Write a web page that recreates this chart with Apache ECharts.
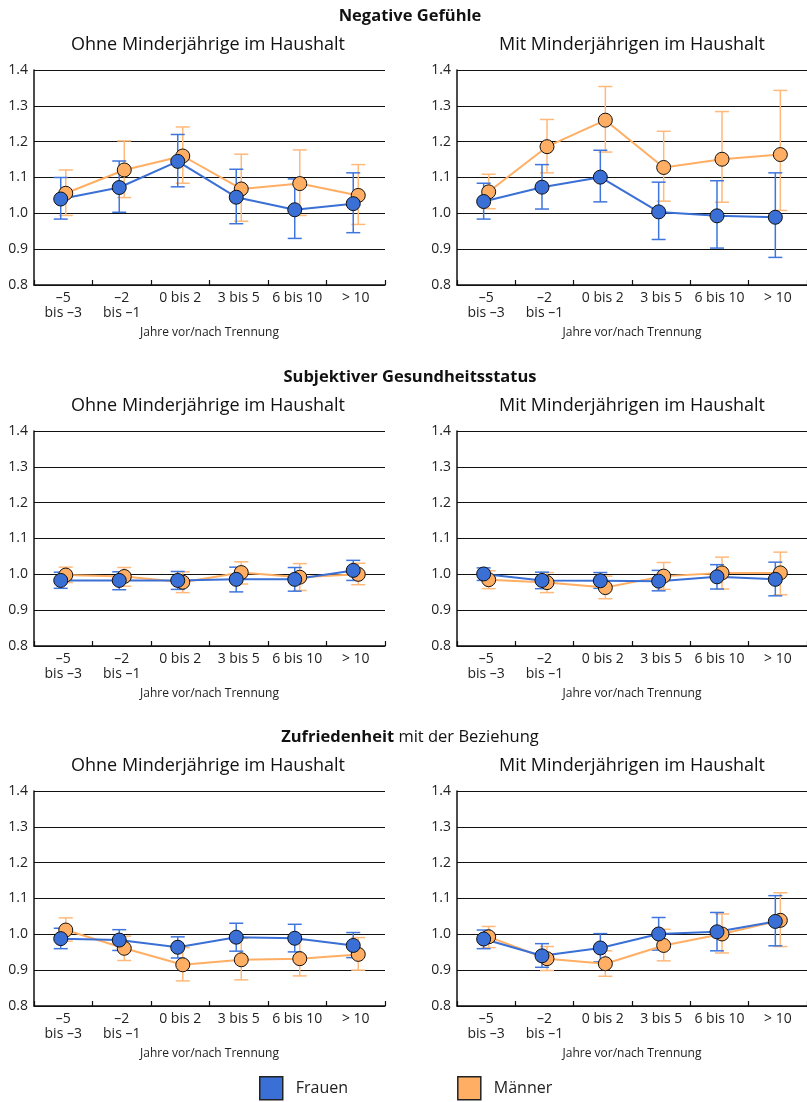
<!DOCTYPE html>
<html>
<head>
<meta charset="utf-8">
<script src="https://cdn.jsdelivr.net/npm/echarts@6/dist/echarts.min.js"></script>
<style>
html,body{margin:0;padding:0;background:#fff;}
#chart{width:807px;height:1102px;}
</style>
</head>
<body>
<div id="chart"></div>
<script>
// ---------- data ----------
const categories = ['–5\nbis –3', '–2\nbis –1', '0 bis 2', '3 bis 5', '6 bis 10', '> 10'];
const yTicks = [0.8, 0.9, 1.0, 1.1, 1.2, 1.3, 1.4];
const seriesNames = ['Frauen', 'Männer'];
const sectionTitles = ['Negative Gefühle', 'Subjektiver Gesundheitsstatus', '{b|Zufriedenheit} mit der Beziehung'];
const panelTitles = ['Ohne Minderjährige im Haushalt', 'Mit Minderjährigen im Haushalt'];
const xAxisName = 'Jahre vor/nach Trennung';

// Negative Gefühle – ohne Minderjährige
const negOhneFrauen     = [1.040, 1.072, 1.145, 1.045, 1.010, 1.027];
const negOhneFrauenLo   = [0.984, 1.003, 1.074, 0.971, 0.930, 0.946];
const negOhneFrauenHi   = [1.100, 1.146, 1.220, 1.123, 1.096, 1.113];
const negOhneMaenner    = [1.056, 1.121, 1.160, 1.068, 1.083, 1.050];
const negOhneMaennerLo  = [0.994, 1.044, 1.084, 0.978, 0.994, 0.969];
const negOhneMaennerHi  = [1.121, 1.202, 1.241, 1.165, 1.177, 1.136];
// Negative Gefühle – mit Minderjährigen
const negMitFrauen      = [1.033, 1.073, 1.101, 1.004, 0.993, 0.989];
const negMitFrauenLo    = [0.984, 1.012, 1.032, 0.927, 0.903, 0.877];
const negMitFrauenHi    = [1.084, 1.136, 1.176, 1.087, 1.091, 1.113];
const negMitMaenner     = [1.060, 1.186, 1.260, 1.128, 1.151, 1.164];
const negMitMaennerLo   = [1.013, 1.113, 1.171, 1.034, 1.031, 1.008];
const negMitMaennerHi   = [1.109, 1.262, 1.354, 1.229, 1.284, 1.343];
// Gesundheit – ohne
const gesOhneFrauen     = [0.983, 0.983, 0.983, 0.986, 0.986, 1.011];
const gesOhneFrauenLo   = [0.961, 0.957, 0.958, 0.951, 0.953, 0.983];
const gesOhneFrauenHi   = [1.006, 1.007, 1.008, 1.020, 1.019, 1.039];
const gesOhneMaenner    = [0.998, 0.994, 0.978, 1.005, 0.992, 1.000];
const gesOhneMaennerLo  = [0.977, 0.967, 0.949, 0.973, 0.955, 0.971];
const gesOhneMaennerHi  = [1.020, 1.019, 1.007, 1.035, 1.030, 1.031];
// Gesundheit – mit
const gesMitFrauen      = [1.001, 0.983, 0.982, 0.981, 0.993, 0.986];
const gesMitFrauenLo    = [0.983, 0.960, 0.961, 0.954, 0.959, 0.940];
const gesMitFrauenHi    = [1.018, 1.006, 1.005, 1.011, 1.027, 1.034];
const gesMitMaenner     = [0.985, 0.977, 0.963, 0.995, 1.004, 1.004];
const gesMitMaennerLo   = [0.960, 0.949, 0.932, 0.958, 0.959, 0.943];
const gesMitMaennerHi   = [1.010, 1.005, 0.995, 1.033, 1.048, 1.062];
// Zufriedenheit – ohne
const zufOhneFrauen     = [0.988, 0.984, 0.964, 0.992, 0.989, 0.969];
const zufOhneFrauenLo   = [0.960, 0.955, 0.934, 0.953, 0.951, 0.935];
const zufOhneFrauenHi   = [1.017, 1.013, 0.993, 1.031, 1.028, 1.005];
const zufOhneMaenner    = [1.012, 0.961, 0.915, 0.929, 0.932, 0.944];
const zufOhneMaennerLo  = [0.981, 0.927, 0.870, 0.873, 0.884, 0.900];
const zufOhneMaennerHi  = [1.046, 0.995, 0.963, 0.989, 0.985, 0.991];
// Zufriedenheit – mit
const zufMitFrauen      = [0.987, 0.940, 0.962, 1.001, 1.007, 1.036];
const zufMitFrauenLo    = [0.960, 0.908, 0.923, 0.956, 0.954, 0.968];
const zufMitFrauenHi    = [1.012, 0.974, 1.002, 1.047, 1.061, 1.108];
const zufMitMaenner     = [0.993, 0.932, 0.918, 0.969, 1.001, 1.039];
const zufMitMaennerLo   = [0.963, 0.899, 0.883, 0.926, 0.948, 0.966];
const zufMitMaennerHi   = [1.022, 0.966, 0.954, 1.014, 1.057, 1.116];

// ---------- styling / layout ----------
const FONT = 'Open Sans';
const BLUE = '#3a6fd6';
const ORANGE = '#ffae63';
const BLUE_ERR = '#3f76de';
const ORANGE_ERR = '#ffb97a';
const DODGE = 0.043;
const gridLeft = [34, 457];
const gridWidth = [351, 350];
const gridTop = [70, 431, 791];
const gridHeight = 215;
const sectionY = [16, 377, 737];
const sectionX = [410, 410, 410];
const subY = [45, 406, 766];
const subX = [208, 632];

const panels = [
  {row:0, col:0, f:negOhneFrauen, fLo:negOhneFrauenLo, fHi:negOhneFrauenHi, m:negOhneMaenner, mLo:negOhneMaennerLo, mHi:negOhneMaennerHi},
  {row:0, col:1, f:negMitFrauen, fLo:negMitFrauenLo, fHi:negMitFrauenHi, m:negMitMaenner, mLo:negMitMaennerLo, mHi:negMitMaennerHi},
  {row:1, col:0, f:gesOhneFrauen, fLo:gesOhneFrauenLo, fHi:gesOhneFrauenHi, m:gesOhneMaenner, mLo:gesOhneMaennerLo, mHi:gesOhneMaennerHi},
  {row:1, col:1, f:gesMitFrauen, fLo:gesMitFrauenLo, fHi:gesMitFrauenHi, m:gesMitMaenner, mLo:gesMitMaennerLo, mHi:gesMitMaennerHi},
  {row:2, col:0, f:zufOhneFrauen, fLo:zufOhneFrauenLo, fHi:zufOhneFrauenHi, m:zufOhneMaenner, mLo:zufOhneMaennerLo, mHi:zufOhneMaennerHi},
  {row:2, col:1, f:zufMitFrauen, fLo:zufMitFrauenLo, fHi:zufMitFrauenHi, m:zufMitMaenner, mLo:zufMitMaennerLo, mHi:zufMitMaennerHi}
];

function errRender(color) {
  return function (params, api) {
    const x = api.value(0);
    const lo = api.coord([x, api.value(1)]);
    const hi = api.coord([x, api.value(2)]);
    const hw = 7;
    const st = {stroke: color, lineWidth: 1.5};
    return {
      type: 'group',
      children: [
        {type: 'line', shape: {x1: lo[0], y1: lo[1], x2: hi[0], y2: hi[1]}, style: st},
        {type: 'line', shape: {x1: hi[0] - hw, y1: hi[1], x2: hi[0] + hw, y2: hi[1]}, style: st},
        {type: 'line', shape: {x1: lo[0] - hw, y1: lo[1], x2: lo[0] + hw, y2: lo[1]}, style: st}
      ]
    };
  };
}

const grid = [], xAxis = [], yAxis = [], series = [];
panels.forEach((p, k) => {
  grid.push({left: gridLeft[p.col], width: gridWidth[p.col], top: gridTop[p.row], height: gridHeight});
  xAxis.push({
    type: 'category', gridIndex: k, data: categories, boundaryGap: true,
    axisLine: {onZero: false, lineStyle: {color: '#111', width: 1.5}},
    axisTick: {show: true, inside: true, length: 5, lineStyle: {color: '#111', width: 1.2}},
    axisLabel: {interval: 0, fontSize: 14, fontFamily: FONT, color: '#222', margin: 6, lineHeight: 15},
    name: xAxisName, nameLocation: 'middle', nameGap: 42,
    nameTextStyle: {fontSize: 12, fontFamily: FONT, color: '#222'}
  });
  xAxis.push({type: 'value', gridIndex: k, min: -0.5, max: categories.length - 0.5, show: false});
  yAxis.push({
    type: 'value', gridIndex: k, min: yTicks[0], max: yTicks[yTicks.length - 1], interval: 0.1,
    axisLine: {show: true, onZero: false, lineStyle: {color: '#111', width: 1.5}},
    axisTick: {show: false},
    axisLabel: {formatter: v => v.toFixed(1), fontSize: 14, fontFamily: FONT, color: '#222', margin: 6},
    splitLine: {show: true, lineStyle: {color: '#111', width: 1}}
  });
  const xi = 2 * k + 1;
  const groups = [
    {name: seriesNames[1], v: p.m, lo: p.mLo, hi: p.mHi, off: DODGE, color: ORANGE, err: ORANGE_ERR},
    {name: seriesNames[0], v: p.f, lo: p.fLo, hi: p.fHi, off: -DODGE, color: BLUE, err: BLUE_ERR}
  ];
  groups.forEach(g => {
    series.push({
      type: 'custom', name: g.name + ' KI', xAxisIndex: xi, yAxisIndex: k, z: 2,
      renderItem: errRender(g.err), silent: true,
      encode: {x: 0, y: [1, 2]},
      data: g.v.map((_, i) => [i + g.off, g.lo[i], g.hi[i]])
    });
  });
  groups.forEach(g => {
    series.push({
      type: 'line', name: g.name, xAxisIndex: xi, yAxisIndex: k, z: 3,
      data: g.v.map((v, i) => [i + g.off, v]),
      symbol: 'circle', symbolSize: 14, showSymbol: true, silent: true,
      lineStyle: {color: g.color, width: 2},
      itemStyle: {color: g.color, borderColor: '#111', borderWidth: 1}
    });
  });
});

const graphic = [];
sectionTitles.forEach((t, r) => {
  graphic.push({type: 'text', x: sectionX[r], y: sectionY[r], style: {
    text: t, fontSize: 16.5, fontWeight: r === 2 ? 'normal' : 'bold', fontFamily: FONT, fill: '#111',
    align: 'center', verticalAlign: 'middle',
    rich: {b: {fontSize: 16.5, fontWeight: 'bold', fontFamily: FONT, fill: '#111'}}
  }});
  panelTitles.forEach((pt, c) => {
    graphic.push({type: 'text', x: subX[c], y: subY[r], style: {
      text: pt, fontSize: 18, fontFamily: FONT, fill: '#111', align: 'center', verticalAlign: 'middle'
    }});
  });
});

const option = {
  animation: false,
  backgroundColor: '#fff',
  textStyle: {fontFamily: FONT},
  grid, xAxis, yAxis, series, graphic,
  legend: {
    data: [
      {name: seriesNames[0], icon: 'rect', itemStyle: {color: BLUE, borderColor: '#222', borderWidth: 1.5}},
      {name: seriesNames[1], icon: 'rect', itemStyle: {color: ORANGE, borderColor: '#222', borderWidth: 1.5}}
    ],
    left: 259, top: 1076, padding: 0, itemWidth: 23, itemHeight: 23, itemGap: 109,
    selectedMode: false,
    textStyle: {fontSize: 16, fontFamily: FONT, color: '#222', padding: [4, 0, 0, 8]}
  }
};

const chart = echarts.init(document.getElementById('chart'), null, {renderer: 'canvas'});
chart.setOption(option);
</script>
</body>
</html>
